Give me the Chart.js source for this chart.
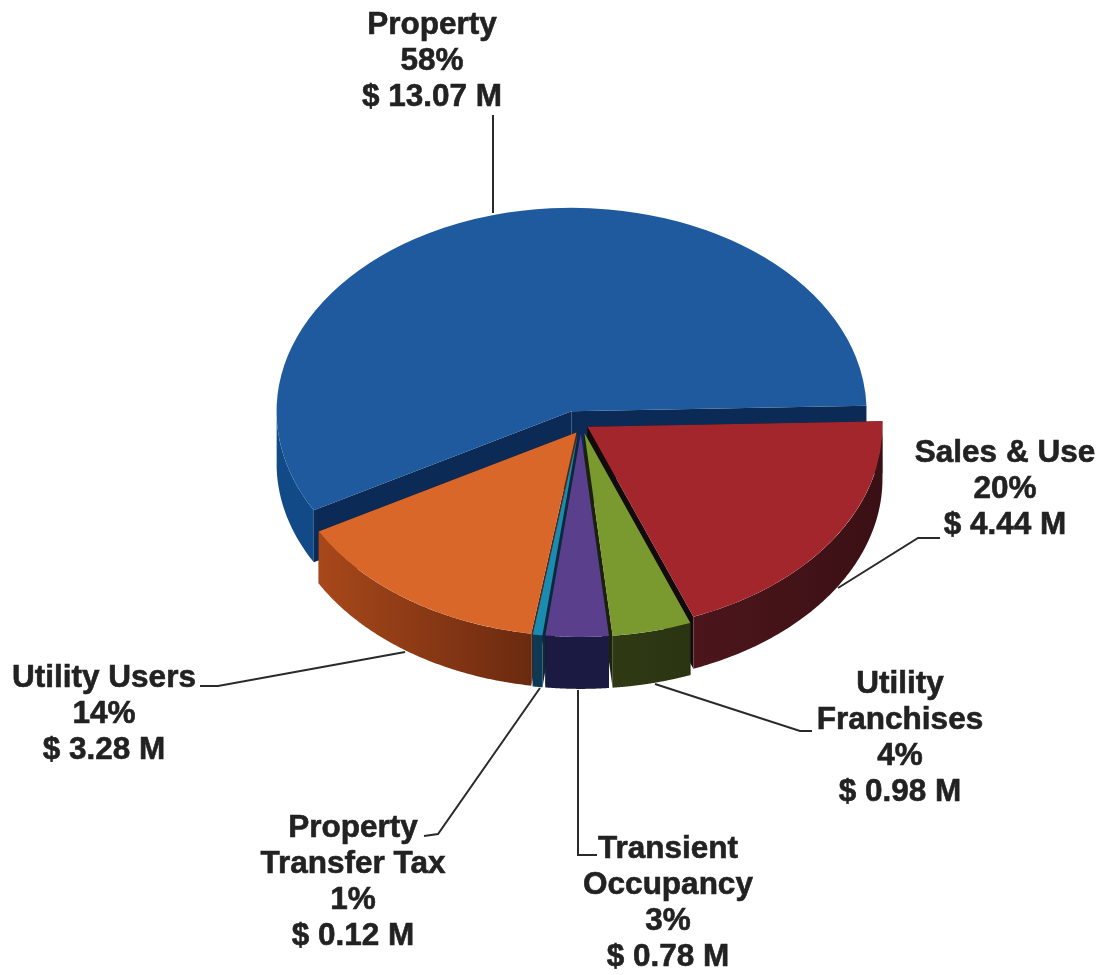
<!DOCTYPE html>
<html lang="en">
<head>
<meta charset="UTF-8">
<title>Tax Revenue by Source</title>
<script src="https://cdn.jsdelivr.net/npm/chart.js"></script>
<style>
    body { margin: 0; background: #fff; }
    canvas { display: block; }
</style>
</head>
<body>
<canvas id="revenuePie" width="1104" height="975"></canvas>
<script>
// data, in the order the slices run clockwise
const categories = ['Property', 'Sales & Use', 'Utility Franchises', 'Transient Occupancy', 'Property Transfer Tax', 'Utility Users'];
const values = [13.07, 4.44, 0.98, 0.78, 0.12, 3.28];
const percentLabels = ['58%', '20%', '4%', '3%', '1%', '14%'];
const amountLabels = ['$ 13.07 M', '$ 4.44 M', '$ 0.98 M', '$ 0.78 M', '$ 0.12 M', '$ 3.28 M'];

// styles
const topColors = ['#1f5a9e', '#a3262c', '#7a9a30', '#5a3f8c', '#1b8cb0', '#d9672a'];
const wallLeft = ['#124a88', '#4c161b', '#2f3a14', '#1a1a42', '#0d3a52', '#a8481a'];
const wallRight = ['#124a88', '#3a1015', '#2a3412', '#1a1a42', '#0d3a52', '#6b2a10'];
const cutColors = ['#0b2a55', '#120a0c', '#1c2208', '#14123a', '#0a2a3c', '#5a2410'];
const drawOrder = [0, 1, 5, 2, 4, 3];
const explode = [13, 15, 15, 15, 15, 15];
// small extra shifts of the exploded slices, in screen px
const nudgeX = [0, 0, 6, 6, 5, 10];
const nudgeY = [0, 1, 3, 3, 3, 4];

// fake 3d settings
const squash = 0.69;
const depth = 52;

// label layout: [text lines centre x, first line y], leader polylines
const labelPos = [[432, 25], [1005, 453], [900, 684], [668, 849], [353, 828], [104, 678]];
const nameLines = [['Property'], ['Sales & Use'], ['Utility', 'Franchises'], ['Transient', 'Occupancy'], ['Property', 'Transfer Tax'], ['Utility Users']];
const leaders = [
    [[493, 115], [493, 213]],
    [[940, 538], [918, 538], [838, 588]],
    [[812, 731], [800, 731], [655, 684]],
    [[597, 855], [578, 855], [578, 690]],
    [[424, 836], [438, 834], [540, 688]],
    [[200, 686], [218, 686], [405, 652]]
];

function wallGradient(ctx, x0, x1, i) {
    const g = ctx.createLinearGradient(x0, 0, x1, 0);
    g.addColorStop(0, wallLeft[i]);
    g.addColorStop(1, wallRight[i]);
    return g;
}

const pie3d = {
    id: 'pie3d',
    beforeDatasetDraw(chart) {
        const ctx = chart.ctx;
        const arcs = chart.getDatasetMeta(0).data;

        drawOrder.forEach(i => {
            const arc = arcs[i];
            const mid = (arc.startAngle + arc.endAngle) / 2;
            const ox = Math.cos(mid) * explode[i] + nudgeX[i];
            const oy = Math.sin(mid) * explode[i] + nudgeY[i] / squash;
            const R = arc.outerRadius;
            const sx = t => arc.x + ox + R * Math.cos(t);
            const sy = t => arc.y + squash * (oy + R * Math.sin(t));
            const tipX = arc.x + ox;
            const tipY = arc.y + squash * oy;

            // cut faces
            ctx.fillStyle = cutColors[i];
            [arc.startAngle, arc.endAngle].forEach(t => {
                ctx.beginPath();
                ctx.moveTo(tipX, tipY);
                ctx.lineTo(sx(t), sy(t));
                ctx.lineTo(sx(t), sy(t) + depth);
                ctx.lineTo(tipX, tipY + depth);
                ctx.closePath();
                ctx.fill();
            });

            // outer wall, only the part that faces the viewer
            const ts = [];
            const steps = 120;
            for (let s = 0; s <= steps; s++) {
                const t = arc.startAngle + (arc.endAngle - arc.startAngle) * s / steps;
                if (Math.sin(t) >= 0) ts.push(t);
            }
            if (ts.length > 1) {
                const xs = ts.map(sx);
                ctx.fillStyle = wallGradient(ctx, Math.min(...xs), Math.max(...xs), i);
                ctx.beginPath();
                ts.forEach((t, n) => n ? ctx.lineTo(sx(t), sy(t)) : ctx.moveTo(sx(t), sy(t)));
                ts.slice().reverse().forEach(t => ctx.lineTo(sx(t), sy(t) + depth));
                ctx.closePath();
                ctx.fill();
            }

            // top face: the library's own arc, flattened
            ctx.save();
            ctx.translate(0, arc.y);
            ctx.scale(1, squash);
            ctx.translate(ox, oy - arc.y);
            arc.draw(ctx);
            ctx.restore();
        });
        return false;
    },
    afterDraw(chart) {
        const ctx = chart.ctx;
        ctx.save();
        ctx.strokeStyle = '#2a2a2a';
        ctx.lineWidth = 2;
        leaders.forEach(line => {
            ctx.beginPath();
            line.forEach((p, n) => n ? ctx.lineTo(p[0], p[1]) : ctx.moveTo(p[0], p[1]));
            ctx.stroke();
        });

        ctx.fillStyle = '#222';
        ctx.strokeStyle = '#222';
        ctx.lineWidth = 0.6;
        ctx.font = 'bold 31.5px "Liberation Sans", Arial, sans-serif';
        ctx.textAlign = 'center';
        ctx.textBaseline = 'middle';
        categories.forEach((c, i) => {
            const lines = nameLines[i].concat(percentLabels[i], amountLabels[i]);
            lines.forEach((txt, n) => {
                ctx.fillText(txt, labelPos[i][0], labelPos[i][1] + n * 36);
                ctx.strokeText(txt, labelPos[i][0], labelPos[i][1] + n * 36);
            });
        });
        ctx.restore();
    }
};

new Chart(document.getElementById('revenuePie'), {
    type: 'pie',
    data: {
        labels: categories,
        datasets: [{
            data: values,
            backgroundColor: topColors,
            borderWidth: 0
        }]
    },
    options: {
        responsive: false,
        animation: false,
        rotation: 240.9,
        layout: { padding: { left: 280, right: 234, top: 125, bottom: 260 } },
        plugins: {
            legend: { display: false },
            tooltip: { enabled: false }
        }
    },
    plugins: [pie3d]
});
</script>
</body>
</html>
